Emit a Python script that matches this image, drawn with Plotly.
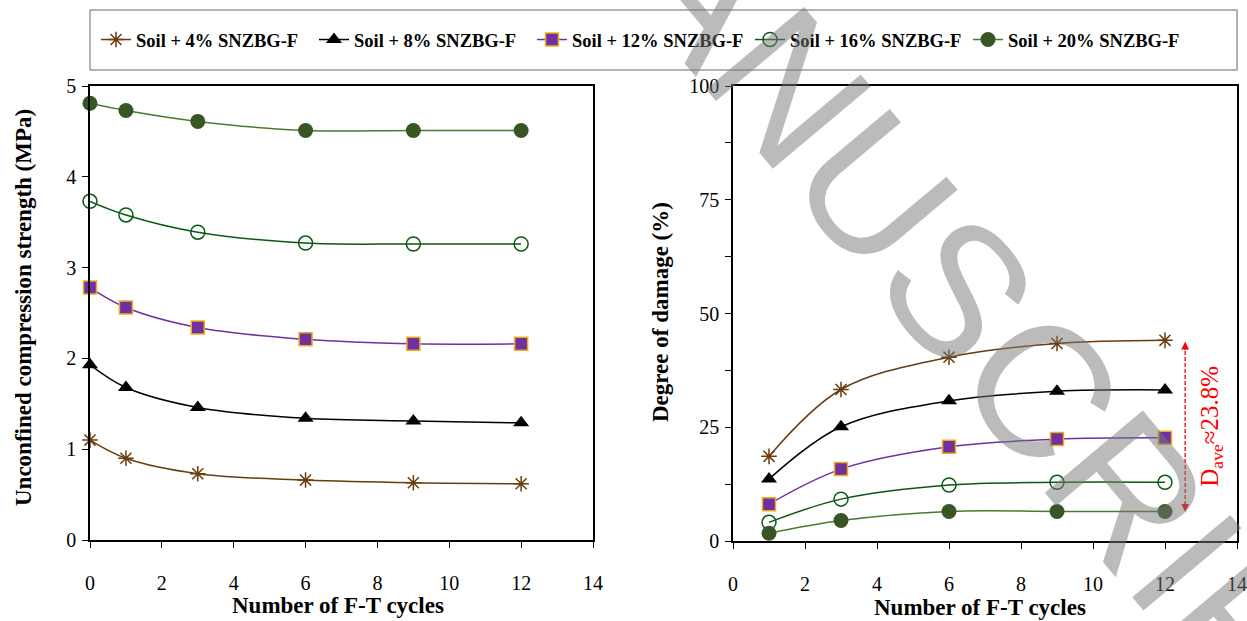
import plotly.graph_objects as go

# ---------------- data ----------------
ft_cycles_ucs = [0, 1, 3, 6, 9, 12]
ft_cycles_dmg = [1, 3, 6, 9, 12]

series_names = ["Soil + 4% SNZBG-F", "Soil + 8% SNZBG-F", "Soil + 12% SNZBG-F",
                "Soil + 16% SNZBG-F", "Soil + 20% SNZBG-F"]

ucs_4 = [1.10, 0.90, 0.73, 0.66, 0.63, 0.62]
ucs_8 = [1.93, 1.68, 1.46, 1.34, 1.31, 1.29]
ucs_12 = [2.78, 2.56, 2.34, 2.21, 2.16, 2.16]
ucs_16 = [3.73, 3.58, 3.39, 3.27, 3.26, 3.26]
ucs_20 = [4.81, 4.73, 4.61, 4.51, 4.51, 4.51]

dmg_4 = [18.6, 33.3, 40.4, 43.4, 44.1]
dmg_8 = [13.6, 25.1, 30.8, 32.9, 33.2]
dmg_12 = [8.1, 15.8, 20.7, 22.4, 22.7]
dmg_16 = [4.1, 9.2, 12.3, 12.9, 12.9]
dmg_20 = [1.7, 4.5, 6.5, 6.5, 6.5]

x_ticks = [0, 2, 4, 6, 8, 10, 12, 14]
ucs_ticks = [0, 1, 2, 3, 4, 5]
dmg_ticks = [0, 12.5, 25, 37.5, 50, 62.5, 75, 87.5, 100]
dmg_ticktext = ["0", "", "25", "", "50", "", "75", "", "100"]

d_ave_text = "D<sub>ave</sub>≈23.8%"
d_ave_range = [43.8, 6.4]
d_ave_x = 12.56

# ---------------- styles ----------------
W, H = 1247, 621
serif = "Times New Roman, Liberation Serif, serif"
styles = [
    dict(line=dict(color="#6B3C0E", width=1.5),
         marker=dict(symbol="asterisk", size=13, color="#6B3C0E", line=dict(color="#6B3C0E", width=1.5))),
    dict(line=dict(color="#000000", width=1.5),
         marker=dict(symbol="triangle-up", size=14, color="#000000")),
    dict(line=dict(color="#7030A0", width=1.5),
         marker=dict(symbol="square", size=13, color="#7030A0", line=dict(color="#EDAE1E", width=1.5))),
    dict(line=dict(color="#0B5A12", width=1.5),
         marker=dict(symbol="circle-open", size=14, color="#0B5A12", line=dict(width=1.5))),
    dict(line=dict(color="#4A7A2E", width=1.5),
         marker=dict(symbol="circle", size=15, color="#375623")),
]

fig = go.Figure()
ucs_all = [ucs_4, ucs_8, ucs_12, ucs_16, ucs_20]
dmg_all = [dmg_4, dmg_8, dmg_12, dmg_16, dmg_20]
for name, ys, st in zip(series_names, ucs_all, styles):
    fig.add_trace(go.Scatter(x=ft_cycles_ucs, y=ys, name=name, mode="lines+markers",
                             line=dict(shape="spline", smoothing=1.0, **st["line"]),
                             marker=st["marker"], xaxis="x", yaxis="y", cliponaxis=False))
for name, ys, st in zip(series_names, dmg_all, styles):
    fig.add_trace(go.Scatter(x=ft_cycles_dmg, y=ys, name=name, mode="lines+markers",
                             line=dict(shape="spline", smoothing=1.0, **st["line"]),
                             marker=st["marker"], xaxis="x2", yaxis="y2", showlegend=False,
                             cliponaxis=False))

def px_x(p):
    return p / W

def px_y(p):
    return 1 - p / H

axis_common = dict(showgrid=False, zeroline=False, showline=True, linecolor="black", linewidth=1.5,
                   mirror=True, ticks="outside", ticklen=6, tickwidth=1.3, tickcolor="black",
                   automargin=False,
                   tickfont=dict(family=serif, size=20, color="black"))

fig.update_layout(
    template="none",
    width=W, height=H, margin=dict(l=0, r=0, t=0, b=0, pad=0), autosize=False,
    paper_bgcolor="white", plot_bgcolor="white",
    xaxis=dict(domain=[px_x(90), px_x(593)], range=[0, 14], tickvals=x_ticks,
               ticklabelstandoff=18, anchor="y", **axis_common),
    yaxis=dict(domain=[px_y(540), px_y(86)], range=[0, 5], tickvals=ucs_ticks,
               ticklabelstandoff=2, anchor="x", **axis_common),
    xaxis2=dict(domain=[px_x(733), px_x(1237)], range=[0, 14], tickvals=x_ticks,
                ticklabelstandoff=18, anchor="y2", **axis_common),
    yaxis2=dict(domain=[px_y(541), px_y(86)], range=[0, 100], tickvals=dmg_ticks,
                ticktext=dmg_ticktext, ticklabelstandoff=2, anchor="x2", **axis_common),
    legend=dict(orientation="h", x=px_x(96), y=px_y(40), xanchor="left", yanchor="middle",
                font=dict(family=serif, size=18.5, color="black", weight="bold"),
                bgcolor="rgba(0,0,0,0)", borderwidth=0, itemwidth=30,
                entrywidth=173, entrywidthmode="pixels",
                tracegroupgap=0),
    showlegend=True,
)

# legend frame
fig.add_shape(type="rect", xref="paper", yref="paper", x0=px_x(90), x1=px_x(1237),
              y0=px_y(70), y1=px_y(10), line=dict(color="#9A9A9A", width=1.5))

# axis titles
title_font = dict(family=serif, size=23, color="black", weight="bold")
fig.add_annotation(text="Number of F-T cycles", xref="paper", yref="paper", x=px_x(338), y=px_y(605),
                   showarrow=False, font=title_font, xanchor="center", yanchor="middle")
fig.add_annotation(text="Number of F-T cycles", xref="paper", yref="paper", x=px_x(980), y=px_y(607),
                   showarrow=False, font=title_font, xanchor="center", yanchor="middle")
fig.add_annotation(text="Unconfined compression strength (MPa)", xref="paper", yref="paper",
                   x=px_x(23), y=px_y(308), textangle=-90, showarrow=False, font=title_font,
                   xanchor="center", yanchor="middle")
fig.add_annotation(text="Degree of damage (%)", xref="paper", yref="paper",
                   x=px_x(660), y=px_y(312), textangle=-90, showarrow=False, font=title_font,
                   xanchor="center", yanchor="middle")

# D_ave dashed double arrow
fig.add_shape(type="line", xref="x2", yref="y2", x0=d_ave_x, x1=d_ave_x,
              y0=d_ave_range[1] + 1.5, y1=d_ave_range[0] - 1.5,
              line=dict(color="red", width=1.3, dash="4px,2px"))
for yv, ay in [(d_ave_range[0], 10), (d_ave_range[1], -10)]:
    fig.add_annotation(x=d_ave_x, y=yv, xref="x2", yref="y2", ax=0, ay=ay, text="",
                       showarrow=True, arrowhead=2, arrowsize=1.2, arrowwidth=1.3, arrowcolor="red")
fig.add_annotation(text=d_ave_text, xref="x2", yref="y2", x=13.3, y=25.3, textangle=-90,
                   showarrow=False, font=dict(family=serif, size=25, color="red"),
                   xanchor="center", yanchor="middle")

# watermark
fig.add_annotation(text="MANUSCRIPT", xref="paper", yref="paper", x=px_x(962), y=px_y(293),
                   textangle=50, showarrow=False,
                   font=dict(family="Liberation Sans", size=186, color="rgba(120,120,120,0.5)"),
                   xanchor="center", yanchor="middle")

fig.write_html("out.html", config={"displayModeBar": False},
               post_script="document.body.style.margin='0';document.body.style.overflow='hidden';")
